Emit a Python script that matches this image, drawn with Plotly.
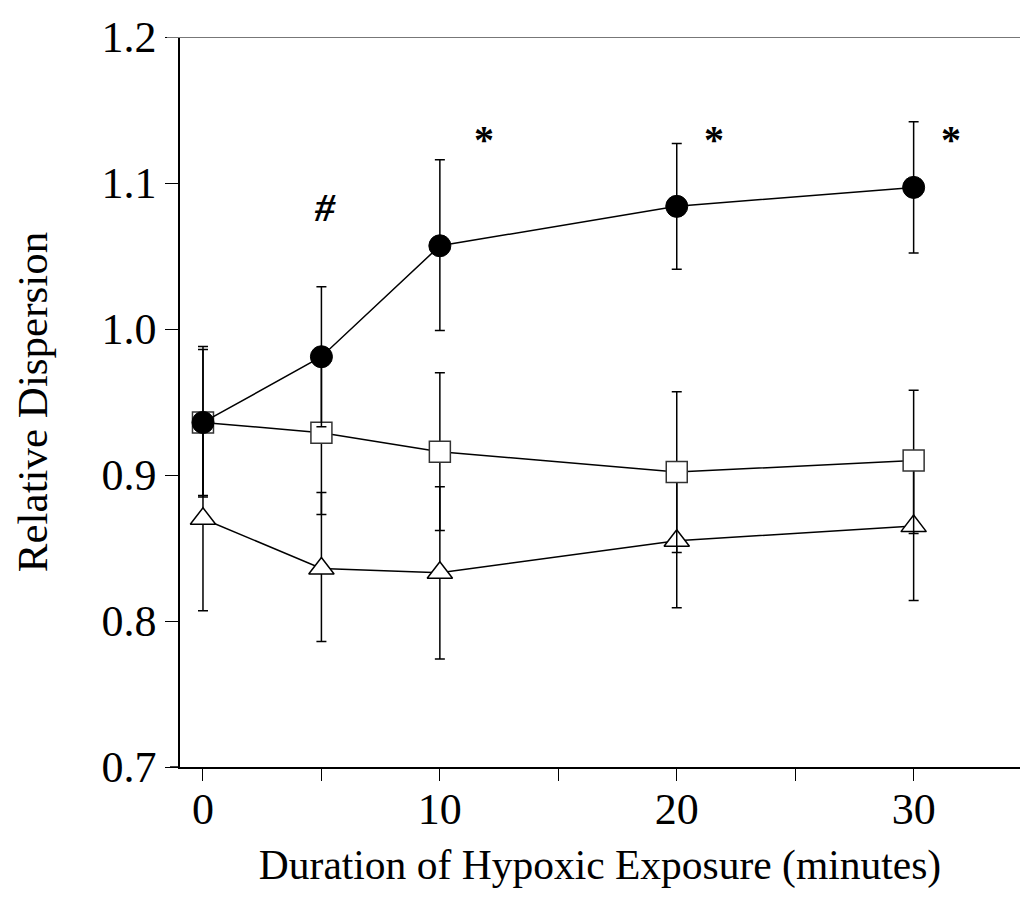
import plotly.graph_objects as go

minutes = [0, 5, 10, 20, 30]

hypoxia_mean = [0.936, 0.981, 1.057, 1.084, 1.097]
hypoxia_plus = [0.052, 0.048, 0.059, 0.043, 0.045]
hypoxia_minus = [0.051, 0.048, 0.058, 0.043, 0.045]

square_mean = [0.936, 0.929, 0.916, 0.902, 0.910]
square_plus = [0.050, 0.056, 0.054, 0.055, 0.048]
square_minus = [0.050, 0.056, 0.054, 0.055, 0.050]

triangle_mean = [0.870, 0.836, 0.833, 0.855, 0.865]
triangle_plus = [0.063, 0.052, 0.059, 0.046, 0.050]
triangle_minus = [0.063, 0.050, 0.059, 0.046, 0.051]

marks = ["<b><i>#</i></b>", "<b>*</b>", "<b>*</b>", "<b>*</b>"]
mark_x = [5.15, 11.86, 21.57, 31.57]
mark_y = [1.083, 1.130, 1.130, 1.130]

x_ticks = [0, 5, 10, 15, 20, 25, 30]
x_ticktext = ["0", "", "10", "", "20", "", "30"]
y_ticks = [0.7, 0.8, 0.9, 1.0, 1.1, 1.2]
y_ticktext = ["0.7", "0.8", "0.9", "1.0", "1.1", "1.2"]

FONT = "Liberation Serif, Times New Roman, serif"

fig = go.Figure()

def err(plus, minus):
    return dict(type="data", symmetric=False, array=plus, arrayminus=minus,
                color="black", thickness=1.5, width=5)

fig.add_trace(go.Scatter(
    x=minutes, y=triangle_mean, mode="lines+markers",
    line=dict(color="black", width=1.5),
    marker=dict(symbol="triangle-up", size=22, color="white",
                line=dict(color="black", width=1.5)),
    error_y=err(triangle_plus, triangle_minus), showlegend=False))

fig.add_trace(go.Scatter(
    x=minutes, y=square_mean, mode="lines+markers",
    line=dict(color="black", width=1.5),
    marker=dict(symbol="square", size=21, color="white",
                line=dict(color="#333333", width=1.5)),
    error_y=err(square_plus, square_minus), showlegend=False))

fig.add_trace(go.Scatter(
    x=minutes, y=hypoxia_mean, mode="lines+markers",
    line=dict(color="black", width=1.5),
    marker=dict(symbol="circle", size=22, color="black",
                line=dict(color="black", width=1)),
    error_y=err(hypoxia_plus, hypoxia_minus), showlegend=False))

for t, xv, yv in zip(marks, mark_x, mark_y):
    fig.add_annotation(x=xv, y=yv, text=t, showarrow=False,
                       font=dict(family=FONT, size=40, color="black"))

# top frame line and x-axis extension
fig.add_shape(type="line", xref="paper", yref="y", x0=-13/840, x1=1, y0=1.2, y1=1.2,
              line=dict(color="#777777", width=2))
fig.add_shape(type="line", xref="paper", yref="paper", x0=-10/840, x1=0, y0=0, y1=0,
              line=dict(color="black", width=1.5))

fig.update_layout(
    width=1023, height=900,
    margin=dict(l=180, r=3, t=37, b=133),
    paper_bgcolor="white", plot_bgcolor="white",
    font=dict(family=FONT, size=44, color="black"),
    xaxis=dict(range=[-0.97, 34.49], tickmode="array", tickvals=x_ticks,
               ticktext=x_ticktext, ticks="outside", ticklen=12, tickwidth=1,
               tickcolor="black", showline=True, linecolor="black", linewidth=1.5,
               showgrid=False, zeroline=False, ticklabelstandoff=-10,
               tickfont=dict(family=FONT, size=44),
               title=dict(text="Duration of Hypoxic Exposure (minutes)",
                          font=dict(family=FONT, size=41.5), standoff=17)),
    yaxis=dict(range=[0.7, 1.2], tickmode="array", tickvals=y_ticks,
               ticktext=y_ticktext, ticks="outside", ticklen=13, tickwidth=1,
               tickcolor="black", showline=True, linecolor="black", linewidth=1.5,
               showgrid=False, zeroline=False,
               tickfont=dict(family=FONT, size=44),
               title=dict(text="Relative Dispersion",
                          font=dict(family=FONT, size=43), standoff=40)),
)

fig.write_html("out.html")
